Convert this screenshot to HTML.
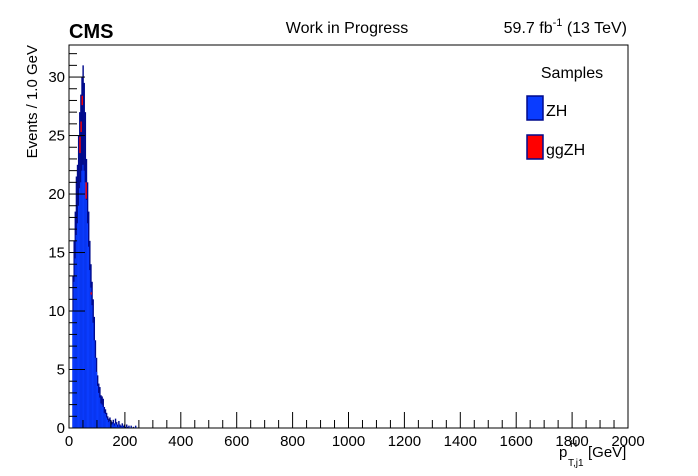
<!DOCTYPE html>
<html><head><meta charset="utf-8"><style>
body{margin:0;background:#fff;}
svg{display:block;font-family:"Liberation Sans",sans-serif;}
</style></head><body>
<svg id="chart" width="698" height="476" viewBox="0 0 698 476" xmlns="http://www.w3.org/2000/svg">
<rect width="698" height="476" fill="#fff"/>
<g id="bars"></g>
<g id="axes"></g>
<text x="69" y="38" font-size="20" font-weight="bold">CMS</text>
<text x="347" y="33" font-size="16" text-anchor="middle">Work in Progress</text>
<text x="627" y="33" font-size="16" text-anchor="end">59.7 fb<tspan dy="-7" font-size="11">-1</tspan><tspan dy="7"> (13 TeV)</tspan></text>
<text transform="translate(37,45) rotate(-90)" font-size="15" text-anchor="end">Events / 1.0 GeV</text>
<g font-size="15">
<text x="559" y="457">p</text>
<text x="570" y="447" font-size="10">H</text>
<text x="568" y="466" font-size="10">T,j1</text>
<text x="588" y="457">[GeV]</text>
</g>
<g>
<text x="572" y="78" font-size="16" text-anchor="middle">Samples</text>
<g><rect x="527" y="96" width="16" height="24" fill="#0a3cff" stroke="#000a8c" stroke-width="1.5"/><text x="546" y="116" font-size="16">ZH</text></g>
<g><rect x="527" y="135" width="16" height="24" fill="#ff0000" stroke="#000a8c" stroke-width="1.5"/><text x="546" y="155" font-size="16">ggZH</text></g>
</g>
</svg>
<script>
const binStarts=[12,16,20,24,28,32,36,40,44,48,52,56,60,64,68,72,76,80,84,88,92,96,100,104,108,112,116,120,124,128,132,136,140,144,148,152,156,160,164,168,172,176,180,184,188,192,196,200,204,208,212,216,220,224,228,232,236];
const zhEnvelope=[13,16,18.5,21.5,22.5,25,27,28.5,30,31,29.5,27,23,21,18.5,16,14,12.5,11,9.5,7.5,6,4.5,3.8,3.5,2.8,2.7,2.5,1.8,1.6,1.3,1.0,0.8,0.9,0.6,0.5,0.7,0.4,0.8,0.5,0.3,0.6,0.3,0.2,0.4,0.2,0.3,0.1,0.3,0.1,0.2,0,0.2,0,0.1,0,0.2];
const zhFill=[10,12.5,14.5,16.5,17.5,19,20.5,21,22,22.5,22,21,19.5,17.5,15.5,13.5,12,10.5,9,7.5,6,4.8,3.6,3.0,2.6,2.1,2.0,1.8,1.3,1.2,0.9,0.7,0.5,0.6,0.4,0.3,0.4,0.2,0.4,0.3,0.1,0.3,0.1,0.1,0.2,0.1,0.1,0,0.1,0,0.1,0,0.1,0,0,0,0.1];
const ggX=[39,43,47,61,79];
const ggBase=[23.5,25.3,27.6,19.6,11.4];
const ggVal=[1.4,0.9,0.8,1.4,0.2];
const binWidth=4;
const xTicks=[0,200,400,600,800,1000,1200,1400,1600,1800,2000];
const yTicks=[0,5,10,15,20,25,30];

const L=69,R=628,T=45,B=428,YMAX=32.74;
const NS='http://www.w3.org/2000/svg';
function xs(v){return L+(v/2000)*(R-L);}
function ys(v){return B-(v/YMAX)*(B-T);}
function mk(tag,attrs,parent){const e=document.createElementNS(NS,tag);for(const k in attrs)e.setAttribute(k,attrs[k]);parent.appendChild(e);return e;}
const bars=document.getElementById('bars');
const axes=document.getElementById('axes');
binStarts.forEach((b,i)=>{
  const x0=xs(b),x1=xs(b+binWidth);
  if(zhEnvelope[i]>0){
    const r=mk('rect',{x:x0,y:ys(zhEnvelope[i]),width:x1-x0+0.3,height:B-ys(zhEnvelope[i]),fill:'#000a8c'},bars);
    
    
  }
  if(zhFill[i]>0){
    const r=mk('rect',{x:x0,y:ys(zhFill[i]),width:x1-x0+0.3,height:B-ys(zhFill[i]),fill:'#0a3cff'},bars);
    
    
  }
});
ggX.forEach((g,i)=>{
  const r=mk('rect',{x:xs(g)-0.6,y:ys(ggBase[i]+ggVal[i]),width:1.4,height:ys(ggBase[i])-ys(ggBase[i]+ggVal[i]),fill:'#ff0000'},bars);
  
  
});
mk('rect',{x:L,y:T,width:R-L,height:B-T,fill:'none',stroke:'#000','stroke-width':1},axes);
for(let v=0;v<=2000;v+=50){
  const major=v%200===0;
  mk('line',{x1:xs(v),x2:xs(v),y1:B,y2:B-(major?16:8),stroke:'#000','stroke-width':1},axes);
}
xTicks.forEach(v=>{
  const t=mk('text',{x:xs(v),y:B+18,'font-size':15,'text-anchor':'middle'},axes);
  t.textContent=v;
  
  
});
for(let v=0;v<=32;v+=1){
  const major=v%5===0;
  mk('line',{x1:L,x2:L+(major?16:8),y1:ys(v),y2:ys(v),stroke:'#000','stroke-width':1},axes);
}
yTicks.forEach(v=>{
  const t=mk('text',{x:L-4,y:ys(v)+5,'font-size':15,'text-anchor':'end'},axes);
  t.textContent=v;
  
  
});
</script>
</body></html>
